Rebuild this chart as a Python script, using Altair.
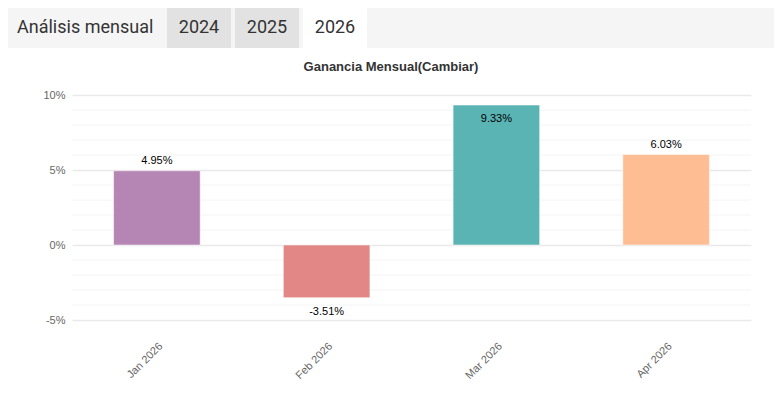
import altair as alt
import pandas as pd

months = ["Jan 2026", "Feb 2026", "Mar 2026", "Apr 2026"]
gains = [4.95, -3.51, 9.33, 6.03]
colors = ["#b586b4", "#e28785", "#5bb4b4", "#ffbd94"]
major_ticks = [-5, 0, 5, 10]
minor_ticks = [-4, -3, -2, -1, 1, 2, 3, 4, 6, 7, 8, 9]
tabs = ["2024", "2025", "2026"]
heading = "Análisis mensual"
title_text = "Ganancia Mensual(Cambiar)"

W, H = 679, 225
FONT = "Liberation Sans"

df = pd.DataFrame({"month": months, "gain": gains})
df["label"] = [f"{g:.2f}%" for g in gains]
minor_df = pd.DataFrame({"v": minor_ticks})
one = alt.Data(values=[{}])

yscale = alt.Scale(domain=[-5, 10], nice=False, zero=False)
xscale = alt.Scale(paddingInner=0.49, paddingOuter=0.245)
yaxis = alt.Axis(values=major_ticks, labelExpr="datum.value + '%'", labelColor="#666666",
                 labelFontSize=11, labelFont=FONT, labelPadding=7, domain=False,
                 ticks=False, grid=True, gridColor="#e9e9e9", gridWidth=1.5)
xaxis = alt.Axis(labelAngle=-45, labelColor="#666666", labelFontSize=11, labelFont=FONT,
                 labelPadding=20, domain=False, ticks=False, grid=False)

# header decorations
header_bg = alt.Chart(one).mark_rect(color="#f5f5f5").encode(
    x=alt.value(-72), x2=alt.value(W + 40), y=alt.value(-93), y2=alt.value(-47))
tab_rects = []
tab_texts = []
tab_fill = ["#e2e2e2", "#e2e2e2", "#ffffff"]
for i, t in enumerate(tabs):
    x0 = 95 + 68 * i
    tab_rects.append(alt.Chart(one).mark_rect(color=tab_fill[i]).encode(
        x=alt.value(x0), x2=alt.value(x0 + 64), y=alt.value(-87), y2=alt.value(-47)))
    tab_texts.append(alt.Chart(one).mark_text(
        text=t, font="Roboto", fontSize=18, color="#333333", align="center", baseline="middle"
    ).encode(x=alt.value(x0 + 32), y=alt.value(-67)))
heading_text = alt.Chart(one).mark_text(
    text=heading, font="Roboto", fontSize=18, color="#333333", align="left", baseline="middle"
).encode(x=alt.value(-55), y=alt.value(-67))
title = alt.Chart(one).mark_text(
    text=title_text, font=FONT, fontSize=13, fontWeight="bold", color="#333333",
    align="center", baseline="middle"
).encode(x=alt.value(319), y=alt.value(-28))

minor = alt.Chart(minor_df).mark_rule(color="#f4f4f4", strokeWidth=1).encode(
    y=alt.Y("v:Q", scale=yscale, title=None, axis=yaxis), x=alt.value(0), x2=alt.value(W))

base = alt.Chart(df)
bars = base.mark_bar(stroke="white", strokeWidth=1, strokeOpacity=0.5).encode(
    x=alt.X("month:N", sort=months, scale=xscale, title=None, axis=xaxis),
    y=alt.Y("gain:Q", scale=yscale, title=None, axis=yaxis),
    color=alt.Color("month:N", sort=months, scale=alt.Scale(domain=months, range=colors), legend=None),
)

lab_common = dict(font=FONT, fontSize=11, color="#000000", align="center", baseline="middle")
enc = dict(x=alt.X("month:N", sort=months, scale=xscale, title=None, axis=xaxis),
           y=alt.Y("gain:Q", scale=yscale, title=None, axis=yaxis), text="label:N")
lab_above = base.transform_filter("datum.gain >= 0 && datum.gain < 9").mark_text(dy=-10, **lab_common).encode(**enc)
lab_inside = base.transform_filter("datum.gain >= 9").mark_text(dy=14, **lab_common).encode(**enc)
lab_below = base.transform_filter("datum.gain < 0").mark_text(dy=14, **lab_common).encode(**enc)

chart = alt.layer(
    header_bg, *tab_rects, *tab_texts, heading_text, title, minor, bars, lab_above, lab_inside, lab_below
).properties(
    width=W, height=H,
    padding={"left": 64, "top": 87, "right": 23, "bottom": 70},
    autosize=alt.AutoSizeParams(type="none"),
).configure_view(stroke=None)

chart.save("out.html", embed_options={"renderer": "svg", "actions": False})
